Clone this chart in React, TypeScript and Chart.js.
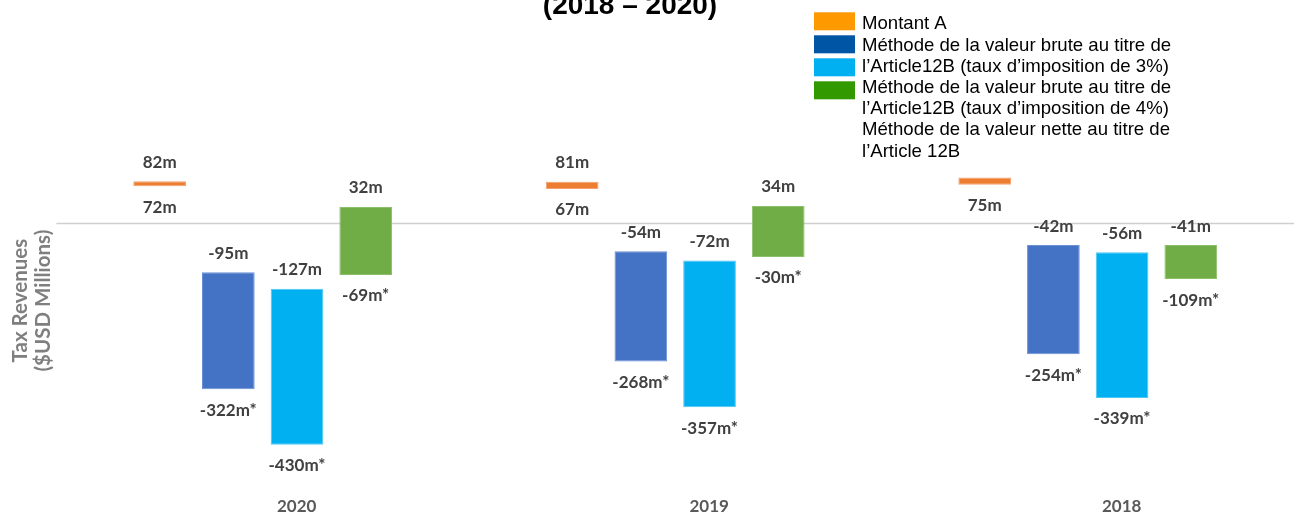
import React, { useEffect, useRef } from 'react';
import { Chart, registerables } from 'chart.js';

Chart.register(...registerables);

// ---- data ----
const categories = ['2020', '2019', '2018'];
const titleText = '(2018 – 2020)';
const yTitle = ['Tax Revenues', '($USD Millions)'];

const seriesNames = [
  'Montant A',
  "Méthode de la valeur brute au titre de l’Article12B (taux d’imposition de 3%)",
  "Méthode de la valeur brute au titre de l’Article12B (taux d’imposition de 4%)",
  "Méthode de la valeur nette au titre de l’Article 12B",
];

const montantA: [number, number][] = [[72, 82], [67, 81], [75, 89]];
const brut3: [number, number][] = [[-95, -322], [-54, -268], [-42, -254]];
const brut4: [number, number][] = [[-127, -430], [-72, -357], [-56, -339]];
const nette: [number, number][] = [[32, -100], [34, -65], [-42, -108]];

const topLabels: string[][] = [
  ['82m', '81m', ''],
  ['-95m', '-54m', '-42m'],
  ['-127m', '-72m', '-56m'],
  ['32m', '34m', '-41m'],
];
const bottomLabels: string[][] = [
  ['72m', '67m', '75m'],
  ['-322m*', '-268m*', '-254m*'],
  ['-430m*', '-357m*', '-339m*'],
  ['-69m*', '-30m*', '-109m*'],
];

const legendLines = [
  'Montant A',
  'Méthode de la valeur brute au titre de',
  'l’Article12B (taux d’imposition de 3%)',
  'Méthode de la valeur brute au titre de',
  'l’Article12B (taux d’imposition de 4%)',
  'Méthode de la valeur nette au titre de',
  'l’Article 12B',
];
const legendBoxColors = ['#FF9900', '#0055A5', '#00B0F0', '#339900'];

const barColors = ['#ED7D31', '#4472C4', '#00B0F0', '#70AD47'];
const barBorders = ['#F4A070', '#6A90D4', '#4CC8F4', '#8DC06A'];

const labelFont = 'bold 17px Lato';
const labelColor = '#404040';

const decorPlugin = {
  id: 'decor',
  beforeDatasetsDraw(chart: any) {
    const { ctx, chartArea, scales } = chart;
    const y0 = scales.y.getPixelForValue(0);
    ctx.save();
    ctx.strokeStyle = '#CFCFCF';
    ctx.lineWidth = 1.5;
    ctx.beginPath();
    ctx.moveTo(chartArea.left, y0);
    ctx.lineTo(chartArea.right, y0);
    ctx.stroke();
    ctx.restore();
  },
  afterDatasetsDraw(chart: any) {
    const { ctx } = chart;
    ctx.save();
    ctx.font = labelFont;
    ctx.fillStyle = labelColor;
    ctx.textAlign = 'center';
    ctx.textBaseline = 'middle';
    chart.data.datasets.forEach((_ds: any, i: number) => {
      const meta = chart.getDatasetMeta(i);
      meta.data.forEach((el: any, j: number) => {
        const top = Math.min(el.y, el.base);
        const bottom = Math.max(el.y, el.base);
        const t = topLabels[i][j];
        const b = bottomLabels[i][j];
        if (t) ctx.fillText(t, el.x, top - 19);
        if (b) ctx.fillText(b, el.x, bottom + 21);
      });
    });
    ctx.restore();
  },
  afterDraw(chart: any) {
    const { ctx } = chart;
    ctx.save();
    // title (second line visible)
    ctx.font = 'bold 28px "Liberation Sans", Arial, sans-serif';
    ctx.fillStyle = '#000000';
    ctx.textAlign = 'center';
    ctx.textBaseline = 'alphabetic';
    ctx.fillText(titleText, 630, 13.5);

    // legend
    const boxX = 814;
    const boxW = 41;
    const boxH = 18;
    legendBoxColors.forEach((c, i) => {
      ctx.fillStyle = c;
      ctx.fillRect(boxX, 12.3 + i * 23, boxW, boxH);
    });
    ctx.font = '18.6px "Liberation Sans", Arial, sans-serif';
    ctx.fillStyle = '#000000';
    ctx.textAlign = 'left';
    legendLines.forEach((line, i) => {
      ctx.fillText(line, 862, 29.3 + i * 21.2);
    });
    ctx.restore();
  },
};

export default function App() {
  const ref = useRef<HTMLCanvasElement | null>(null);

  useEffect(() => {
    if (!ref.current) return;
    const series = [montantA, brut3, brut4, nette];
    const chart = new Chart(ref.current, {
      type: 'bar',
      data: {
        labels: categories,
        datasets: series.map((d, i) => ({
          label: seriesNames[i],
          data: d,
          backgroundColor: barColors[i],
          borderColor: barBorders[i],
          borderWidth: 1,
          borderSkipped: false,
          categoryPercentage: 0.666,
          barPercentage: 0.767,
        })),
      },
      options: {
        responsive: false,
        animation: false,
        devicePixelRatio: 1,
        layout: { padding: { top: 120.4, left: 0, right: 0, bottom: 0 } },
        plugins: {
          legend: { display: false },
          title: { display: false },
          tooltip: { enabled: false },
        },
        scales: {
          x: {
            grid: { display: false, drawTicks: false },
            border: { display: false },
            ticks: {
              labelOffset: 34,
              padding: 15.6,
              color: '#595959',
              font: { family: 'Lato', size: 17, weight: 'bold' },
            },
            afterFit(scale: any) {
              scale.height = 37.1;
            },
          },
          y: {
            min: -500,
            max: 200,
            grid: { display: false, drawTicks: false },
            border: { display: false },
            ticks: { display: false },
            title: {
              display: true,
              text: yTitle,
              color: '#7F7F7F',
              font: { family: 'Lato', size: 20.5, weight: 'bold', lineHeight: 1.12 },
              padding: { top: 8.5, bottom: 0 },
            },
            afterFit(scale: any) {
              scale.width = 56.4;
            },
          },
        },
      },
      plugins: [decorPlugin],
    });
    return () => chart.destroy();
  }, []);

  return (
    <div style={{ position: 'absolute', left: 0, top: 0, width: 1294, height: 518, background: '#fff' }}>
      <canvas ref={ref} width={1294} height={518} style={{ width: 1294, height: 518, display: 'block' }} />
    </div>
  );
}
